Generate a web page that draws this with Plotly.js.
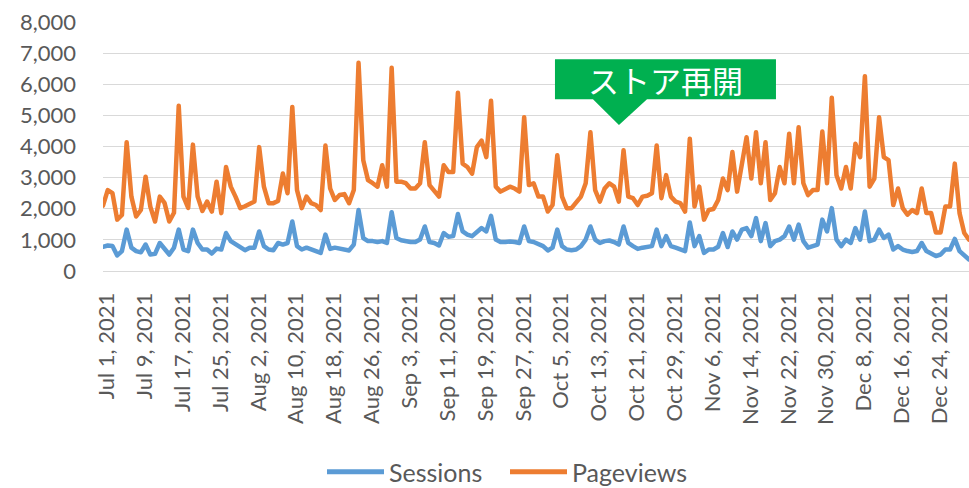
<!DOCTYPE html>
<html><head><meta charset="utf-8">
<script src="https://cdn.plot.ly/plotly-3.0.1.min.js"></script>
<style>
html,body{margin:0;padding:0;background:#fff;}
#chart{width:969px;height:488px;}
.js-line{stroke-linejoin:round !important;stroke-linecap:round !important;}
</style></head>
<body><div id="chart"></div>
<script>
// Daily series, Jul 1 2021 .. Dec 31 2021 (184 days)
const START_DATE = "2021-07-01";
const sessions = [
780,820,800,500,640,1330,750,640,600,850,530,550,900,690,530,750,1330,690,640,1330,
900,690,690,560,720,690,1220,960,850,750,670,750,750,1270,800,690,670,900,850,900,
1590,800,690,750,690,640,580,1170,710,750,730,710,660,850,1960,1060,960,960,930,960,
900,1890,1060,990,950,930,930,1010,1430,930,900,820,1220,1100,1120,1830,1270,1170,1120,1270,
1380,1270,1770,1010,930,930,950,930,900,1430,960,930,850,800,660,750,1330,800,690,670,
690,800,1010,1430,1010,900,960,980,930,850,1430,900,800,710,750,780,800,1330,800,1120,
800,750,690,640,1560,800,1120,580,690,690,780,1220,770,1270,1010,1330,1380,1120,1700,960,
1540,800,960,1010,1120,1430,1010,1490,960,750,800,850,1650,1270,2020,1010,800,1010,900,1380,
1010,1910,960,1010,1330,1060,1170,690,800,690,640,610,640,900,640,560,480,530,690,690,
1030,640,480,370
];
const pageviews = [
2100,2600,2500,1650,1800,4140,2390,1750,1960,3030,2070,1590,2390,2190,1590,1870,5310,2390,2030,4060,
2390,1930,2230,1910,2870,1860,3340,2710,2390,2020,2080,2150,2230,3980,2710,2180,2180,2250,3130,2500,
5270,2600,2020,2390,2180,2120,1960,4030,2650,2280,2440,2470,2180,2600,6690,3560,2920,2820,2710,3400,
2710,6530,2870,2870,2820,2650,2650,2820,4140,2760,2550,2390,3400,3180,3180,5730,3450,3340,3130,3980,
4190,3660,5470,2710,2550,2650,2710,2650,2550,4940,2760,2820,2390,2390,1910,2120,3720,2390,2020,2020,
2180,2390,2820,4460,2600,2230,2650,2820,2710,2230,3880,2390,2340,2120,2390,2420,2500,4030,2340,3080,
2390,2230,2180,1910,4250,2070,2710,1650,1960,1990,2280,2970,2600,3820,2550,3400,4300,2970,4460,2820,
4140,2280,2500,3340,2820,4410,2820,4620,2820,2440,2600,2600,4480,2820,5570,3080,2650,3340,2650,4090,
3660,6260,2710,2970,4940,3660,3560,2120,2650,2020,1810,1960,1860,2650,1860,1860,1240,1240,2070,2070,
3450,1860,1220,1010
];
const seriesNames = ["Sessions", "Pageviews"];
const seriesColors = ["#5B9BD5", "#ED7D31"];
const yTickVals = [0,1000,2000,3000,4000,5000,6000,7000,8000];
const calloutText = "ストア再開";

function isoDay(i){
  const d = new Date(START_DATE + "T00:00:00Z");
  d.setUTCDate(d.getUTCDate() + i);
  return d.toISOString().slice(0,10);
}
const dates = sessions.map((_, i) => isoDay(i));
const xTickVals = [];
for (let i = 0; i < dates.length; i += 8) xTickVals.push(dates[i]);

const W = 969, H = 488;
const mL = 103, mR = 0, mT = 21.5, mB = 216.5;
const pw = W - mL - mR, ph = H - mT - mB;
const px = x => (x - mL) / pw;
const py = y => (H - mB - y) / ph;

const traces = [
  {x: dates, y: sessions, name: seriesNames[0], type: "scatter", mode: "lines",
   line: {color: seriesColors[0], width: 4.5}, showlegend: false},
  {x: dates, y: pageviews, name: seriesNames[1], type: "scatter", mode: "lines",
   line: {color: seriesColors[1], width: 4.5}, showlegend: false}
];

// callout path (pixel geometry converted to paper coords)
const pts = [[555,59],[776,59],[776,99],[647,99],[619,125],[593,99],[555,99]];
const path = "M" + pts.map(p => px(p[0]).toFixed(4) + "," + py(p[1]).toFixed(4)).join(" L") + " Z";

const legendY = 473;
const shapes = [
  {type: "path", xref: "paper", yref: "paper", path: path,
   fillcolor: "#00B050", line: {width: 0}, layer: "above"},
  {type: "line", xref: "paper", yref: "paper", x0: px(327), x1: px(384), y0: py(legendY), y1: py(legendY),
   line: {color: seriesColors[0], width: 5}},
  {type: "line", xref: "paper", yref: "paper", x0: px(510), x1: px(567), y0: py(legendY), y1: py(legendY),
   line: {color: seriesColors[1], width: 5}}
];

const annotations = [
  {xref: "paper", yref: "paper", x: px(665.5), y: py(79), text: calloutText, showarrow: false,
   font: {family: "'Noto Sans CJK JP', sans-serif", size: 31, color: "#ffffff"},
   xanchor: "center", yanchor: "middle"},
  {xref: "paper", yref: "paper", x: px(387), y: py(legendY), text: seriesNames[0], showarrow: false,
   font: {family: "Lato, sans-serif", size: 25, color: "#595959"}, xanchor: "left", yanchor: "middle"},
  {xref: "paper", yref: "paper", x: px(570), y: py(legendY), text: seriesNames[1], showarrow: false,
   font: {family: "Lato, sans-serif", size: 25, color: "#595959"}, xanchor: "left", yanchor: "middle"}
];

const layout = {
  width: W, height: H,
  margin: {l: mL, r: mR, t: mT, b: mB},
  paper_bgcolor: "#ffffff", plot_bgcolor: "#ffffff",
  font: {family: "Lato, sans-serif", size: 22, color: "#595959"},
  showlegend: false,
  xaxis: {
    type: "date", range: [dates[0], dates[dates.length-1]],
    tickvals: xTickVals, tickformat: "%b %-d, %Y", tickangle: -90,
    showgrid: false, zeroline: false, showline: true, linecolor: "#D9D9D9", linewidth: 1,
    ticks: "", ticklabelstandoff: 12, ticklabelshift: 4,
    tickfont: {family: "Lato, sans-serif", size: 22, color: "#595959"}
  },
  yaxis: {
    range: [0, 8000], tickvals: yTickVals, tickformat: ",d",
    showgrid: true, gridcolor: "#D9D9D9", gridwidth: 1, zeroline: false,
    showline: false, ticks: "", ticklabelstandoff: 26,
    tickfont: {family: "Lato, sans-serif", size: 22, color: "#595959"}
  },
  shapes: shapes,
  annotations: annotations
};

Plotly.newPlot("chart", traces, layout, {displayModeBar: false, staticPlot: true});
</script></body></html>
